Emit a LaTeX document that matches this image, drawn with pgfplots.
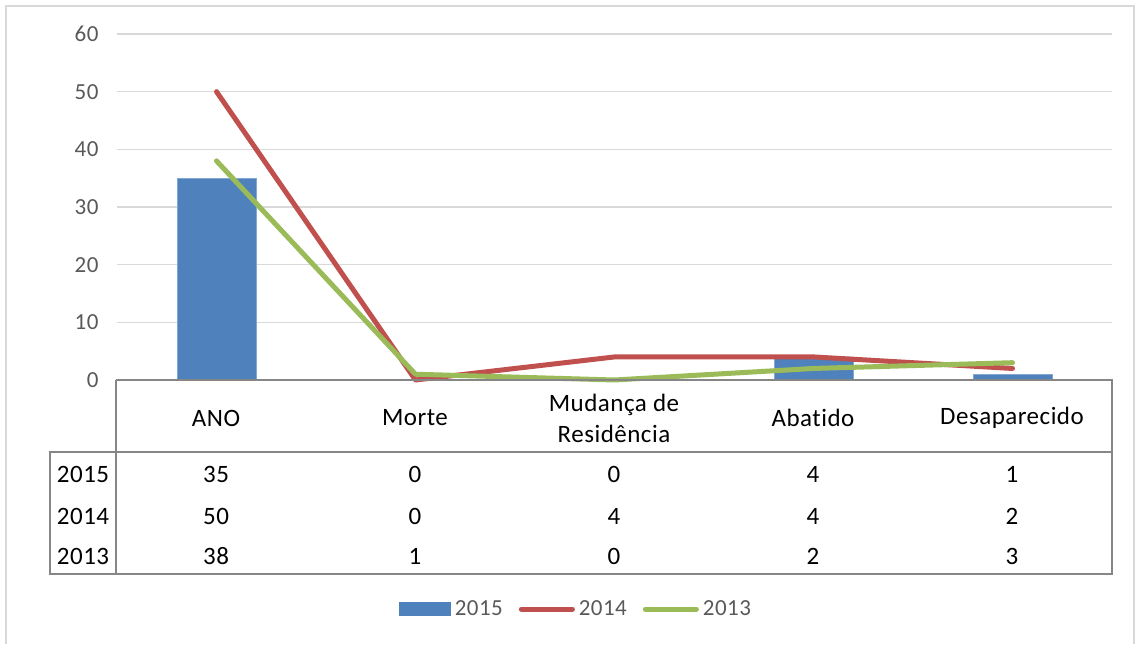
\documentclass[border=0pt]{standalone}
\usepackage{pgfplots}
\pgfplotsset{compat=1.18}
\usepackage{fontspec}
\setmainfont{Carlito}[Ligatures=NoCommon, LetterSpace=2]
\definecolor{cblue}{HTML}{4F81BD}
\definecolor{cred}{HTML}{C0504D}
\definecolor{cgreen}{HTML}{9BBB59}
\definecolor{tgray}{HTML}{595959}
\definecolor{ggray}{HTML}{D9D9D9}
\definecolor{lgray}{HTML}{868686}
\begin{document}
\begin{tikzpicture}[x=1pt,y=1pt]
\path (0,0) rectangle (1135,644);
\draw[ggray, line width=1.5pt] (6,0) -- (6,638) -- (1134,638) -- (1134,0);
\begin{axis}[
  at={(117pt,264pt)}, anchor=south west,
  scale only axis, width=995pt, height=346pt,
  xmin=-0.5, xmax=4.5, ymin=0, ymax=60,
  ytick={0,10,...,60}, xtick=\empty,
  ymajorgrids, grid style={ggray, line width=1.5pt},
  axis line style={draw=none},
  major tick length=0pt,
  clip=false,
  /pgf/number format/assume math mode=true,
  yticklabel style={font=\fontsize{23}{27}\selectfont, text=tgray, xshift=-15pt},
  legend style={at={(0.4623,-0.662)}, anchor=center, draw=none, fill=none,
    legend columns=3, font=\fontsize{23}{27}\selectfont, text=tgray,
    /tikz/every even column/.append style={column sep=12pt},
    nodes={inner xsep=4pt, inner ysep=3pt}},
]
\addplot[ybar, bar width=79pt, fill=cblue, draw=cblue!70!white, line width=0.8pt,
  legend image code/.code={\fill[cblue] (-2pt,-6.5pt) rectangle (49pt,6.5pt);}]
  coordinates {(0,35) (1,0) (2,0) (3,4) (4,1)};
\addlegendentry{2015}
\addplot[cred, line width=5pt, line cap=round, line join=round,
  legend image code/.code={\draw[cred, line width=5pt, line cap=round] (1pt,0pt) -- (52pt,0pt);}]
  coordinates {(0,50) (1,0) (2,4) (3,4) (4,2)};
\addlegendentry{2014}
\addplot[cgreen, line width=5pt, line cap=round, line join=round,
  legend image code/.code={\draw[cgreen, line width=5pt, line cap=round] (1pt,0pt) -- (52pt,0pt);}]
  coordinates {(0,38) (1,1) (2,0) (3,2) (4,3)};
\addlegendentry{2013}
\end{axis}
% data table frame
\draw[lgray, line width=2pt] (116,264) -- (1112,264) -- (1112,70) -- (50,70) -- (50,192) -- (1112,192);
\draw[lgray, line width=2pt] (116,264) -- (116,70);
% header
\begin{scope}[every node/.style={font=\fontsize{25}{31}\selectfont, text=black, align=center}]
\node at (216,226) {ANO};
\node at (415,226) {Morte};
\node at (614,226) {Mudança de\\Residência};
\node at (813,226) {Abatido};
\node at (1012,226) {Desaparecido};
\node at (83,170) {2015};
\node at (83,128) {2014};
\node at (83,88) {2013};
\foreach \x/\a/\b/\c in {216/35/50/38, 415/0/0/1, 614/0/4/0, 813/4/4/2, 1012/1/2/3}{
  \node at (\x,170) {\a};
  \node at (\x,128) {\b};
  \node at (\x,88) {\c};
}
\end{scope}
\end{tikzpicture}
\end{document}
